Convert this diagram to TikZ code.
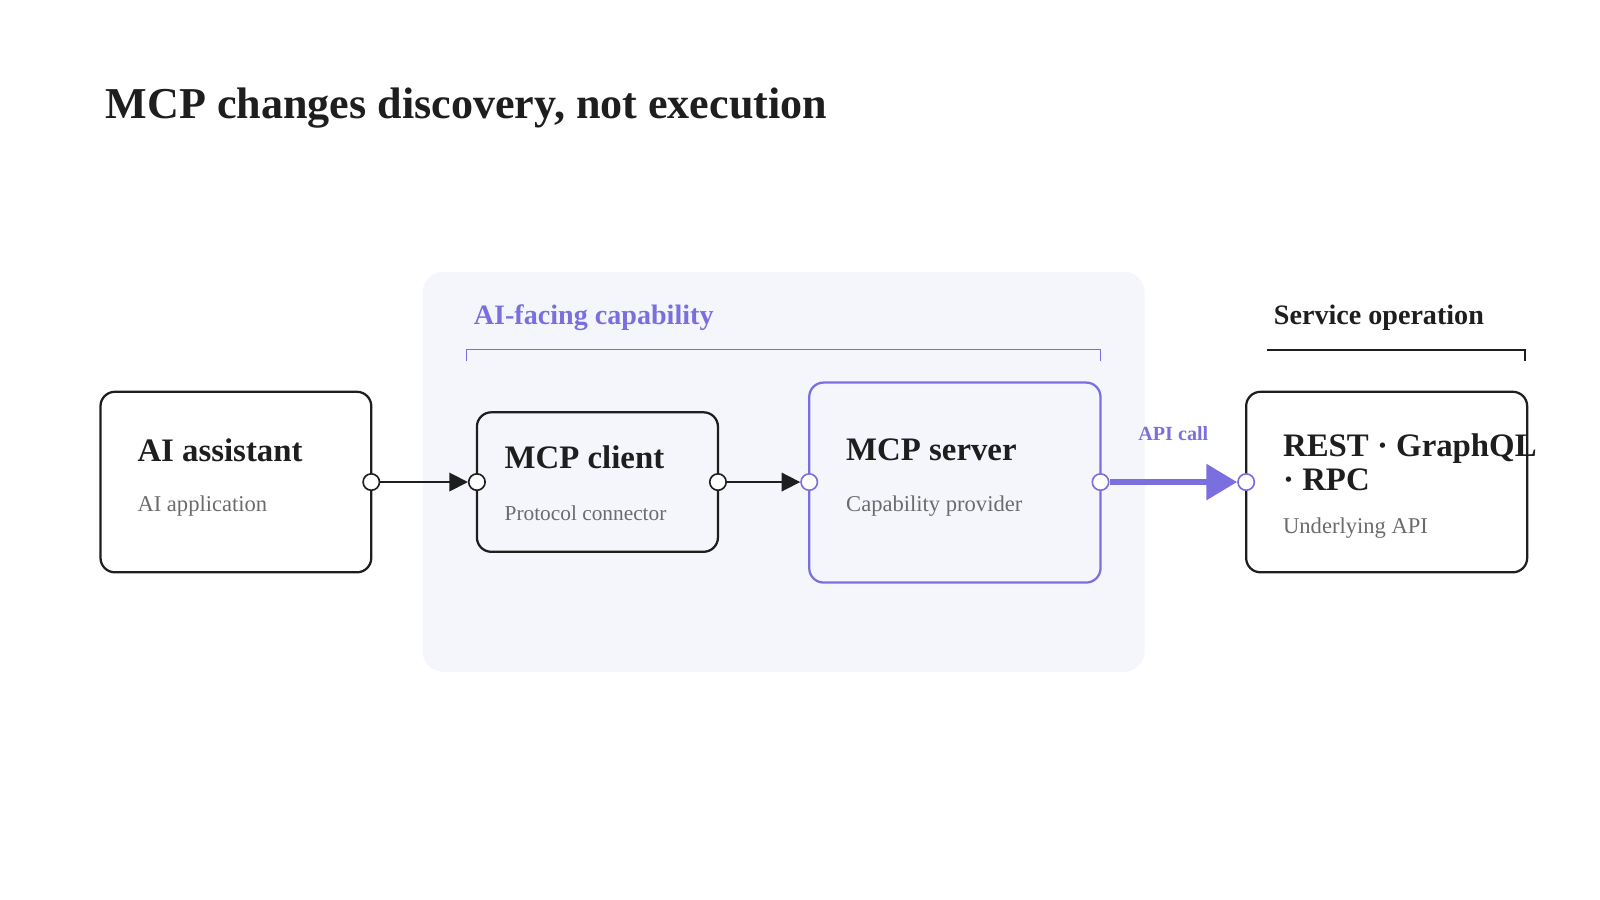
\documentclass[tikz,border=0pt]{standalone}
\usepackage{fontspec}
\setmainfont{Liberation Serif}
\usetikzlibrary{arrows.meta}
\definecolor{pur}{HTML}{7B6FE0}
\definecolor{ink}{HTML}{1E1E1E}
\definecolor{sub}{HTML}{6B6B6B}
\definecolor{panel}{HTML}{F5F6FC}
\begin{document}
\begin{tikzpicture}[x=0.5pt,y=-0.5pt,
 box/.style={draw=ink,line width=1.1pt,rounded corners=7pt},
 ttl/.style={anchor=base west,font=\bfseries\fontsize{16}{18}\selectfont,text=ink},
 sb/.style={anchor=base west,font=\fontsize{11}{13}\selectfont,text=sub},
 port/.style={circle,draw=ink,fill=white,line width=0.8pt,inner sep=0pt,minimum size=8pt},
 pport/.style={port,draw=pur},
 arr/.style={draw=ink,line width=0.9pt,-{Triangle[length=9pt,width=9pt]}}]
\useasboundingbox (0,0) rectangle (1560,877.5);
\fill[panel,rounded corners=10pt] (412,265) rectangle (1116,655);
\node[anchor=base west,font=\bfseries\fontsize{21.5}{24}\selectfont,text=ink] (title) at (96,116) {MCP changes discovery, not execution};
\node[anchor=base west,font=\bfseries\fontsize{13.7}{15}\selectfont,text=pur] (cap) at (455,316) {AI-facing capability};
\draw[pur,line width=0.7pt] (455,352) -- (455,341) -- (1073,341) -- (1073,352);
\node[anchor=base west,font=\bfseries\fontsize{13.7}{15}\selectfont,text=ink] (svc) at (1235,316) {Service operation};
\draw[ink,line width=0.8pt] (1235,341) -- (1487,341) -- (1487,352);
\draw[box] (98,382) rectangle (362,558);
\node[ttl] (a1) at (127,450) {AI assistant};
\node[sb] (a2) at (127,499) {AI application};
\draw[box] (465,402) rectangle (700,538);
\node[ttl] (c1) at (485,457) {MCP client};
\node[sb,font=\fontsize{10.4}{12}\selectfont] (c2) at (485,507) {Protocol connector};
\draw[box,draw=pur] (789,373) rectangle (1073,568);
\node[ttl] (s1) at (818,449) {MCP server};
\node[sb] (s2) at (818,499) {Capability provider};
\draw[box] (1215,382) rectangle (1489,558);
\node[ttl] (r1) at (1244,445) {REST · GraphQL};
\node[ttl] (r1b) at (1244,478) {· RPC};
\node[sb] (r2) at (1244,520) {Underlying API};
\node[port] (p1) at (362,470) {};
\node[port] (p2) at (465,470) {};
\node[port] (p3) at (700,470) {};
\node[pport] (p4) at (789,470) {};
\node[pport] (p5) at (1073,470) {};
\node[pport] (p6) at (1215,470) {};
\draw[arr] (p1) -- (p2);
\draw[arr] (p3) -- (p4);
\draw[draw=pur,line width=3pt,-{Triangle[length=15pt,width=17pt]}] (p5) -- (p6);
\node[font=\bfseries\fontsize{9.8}{11}\selectfont,text=pur] (api) at (1144,423) {API call};
\end{tikzpicture}
\end{document}
